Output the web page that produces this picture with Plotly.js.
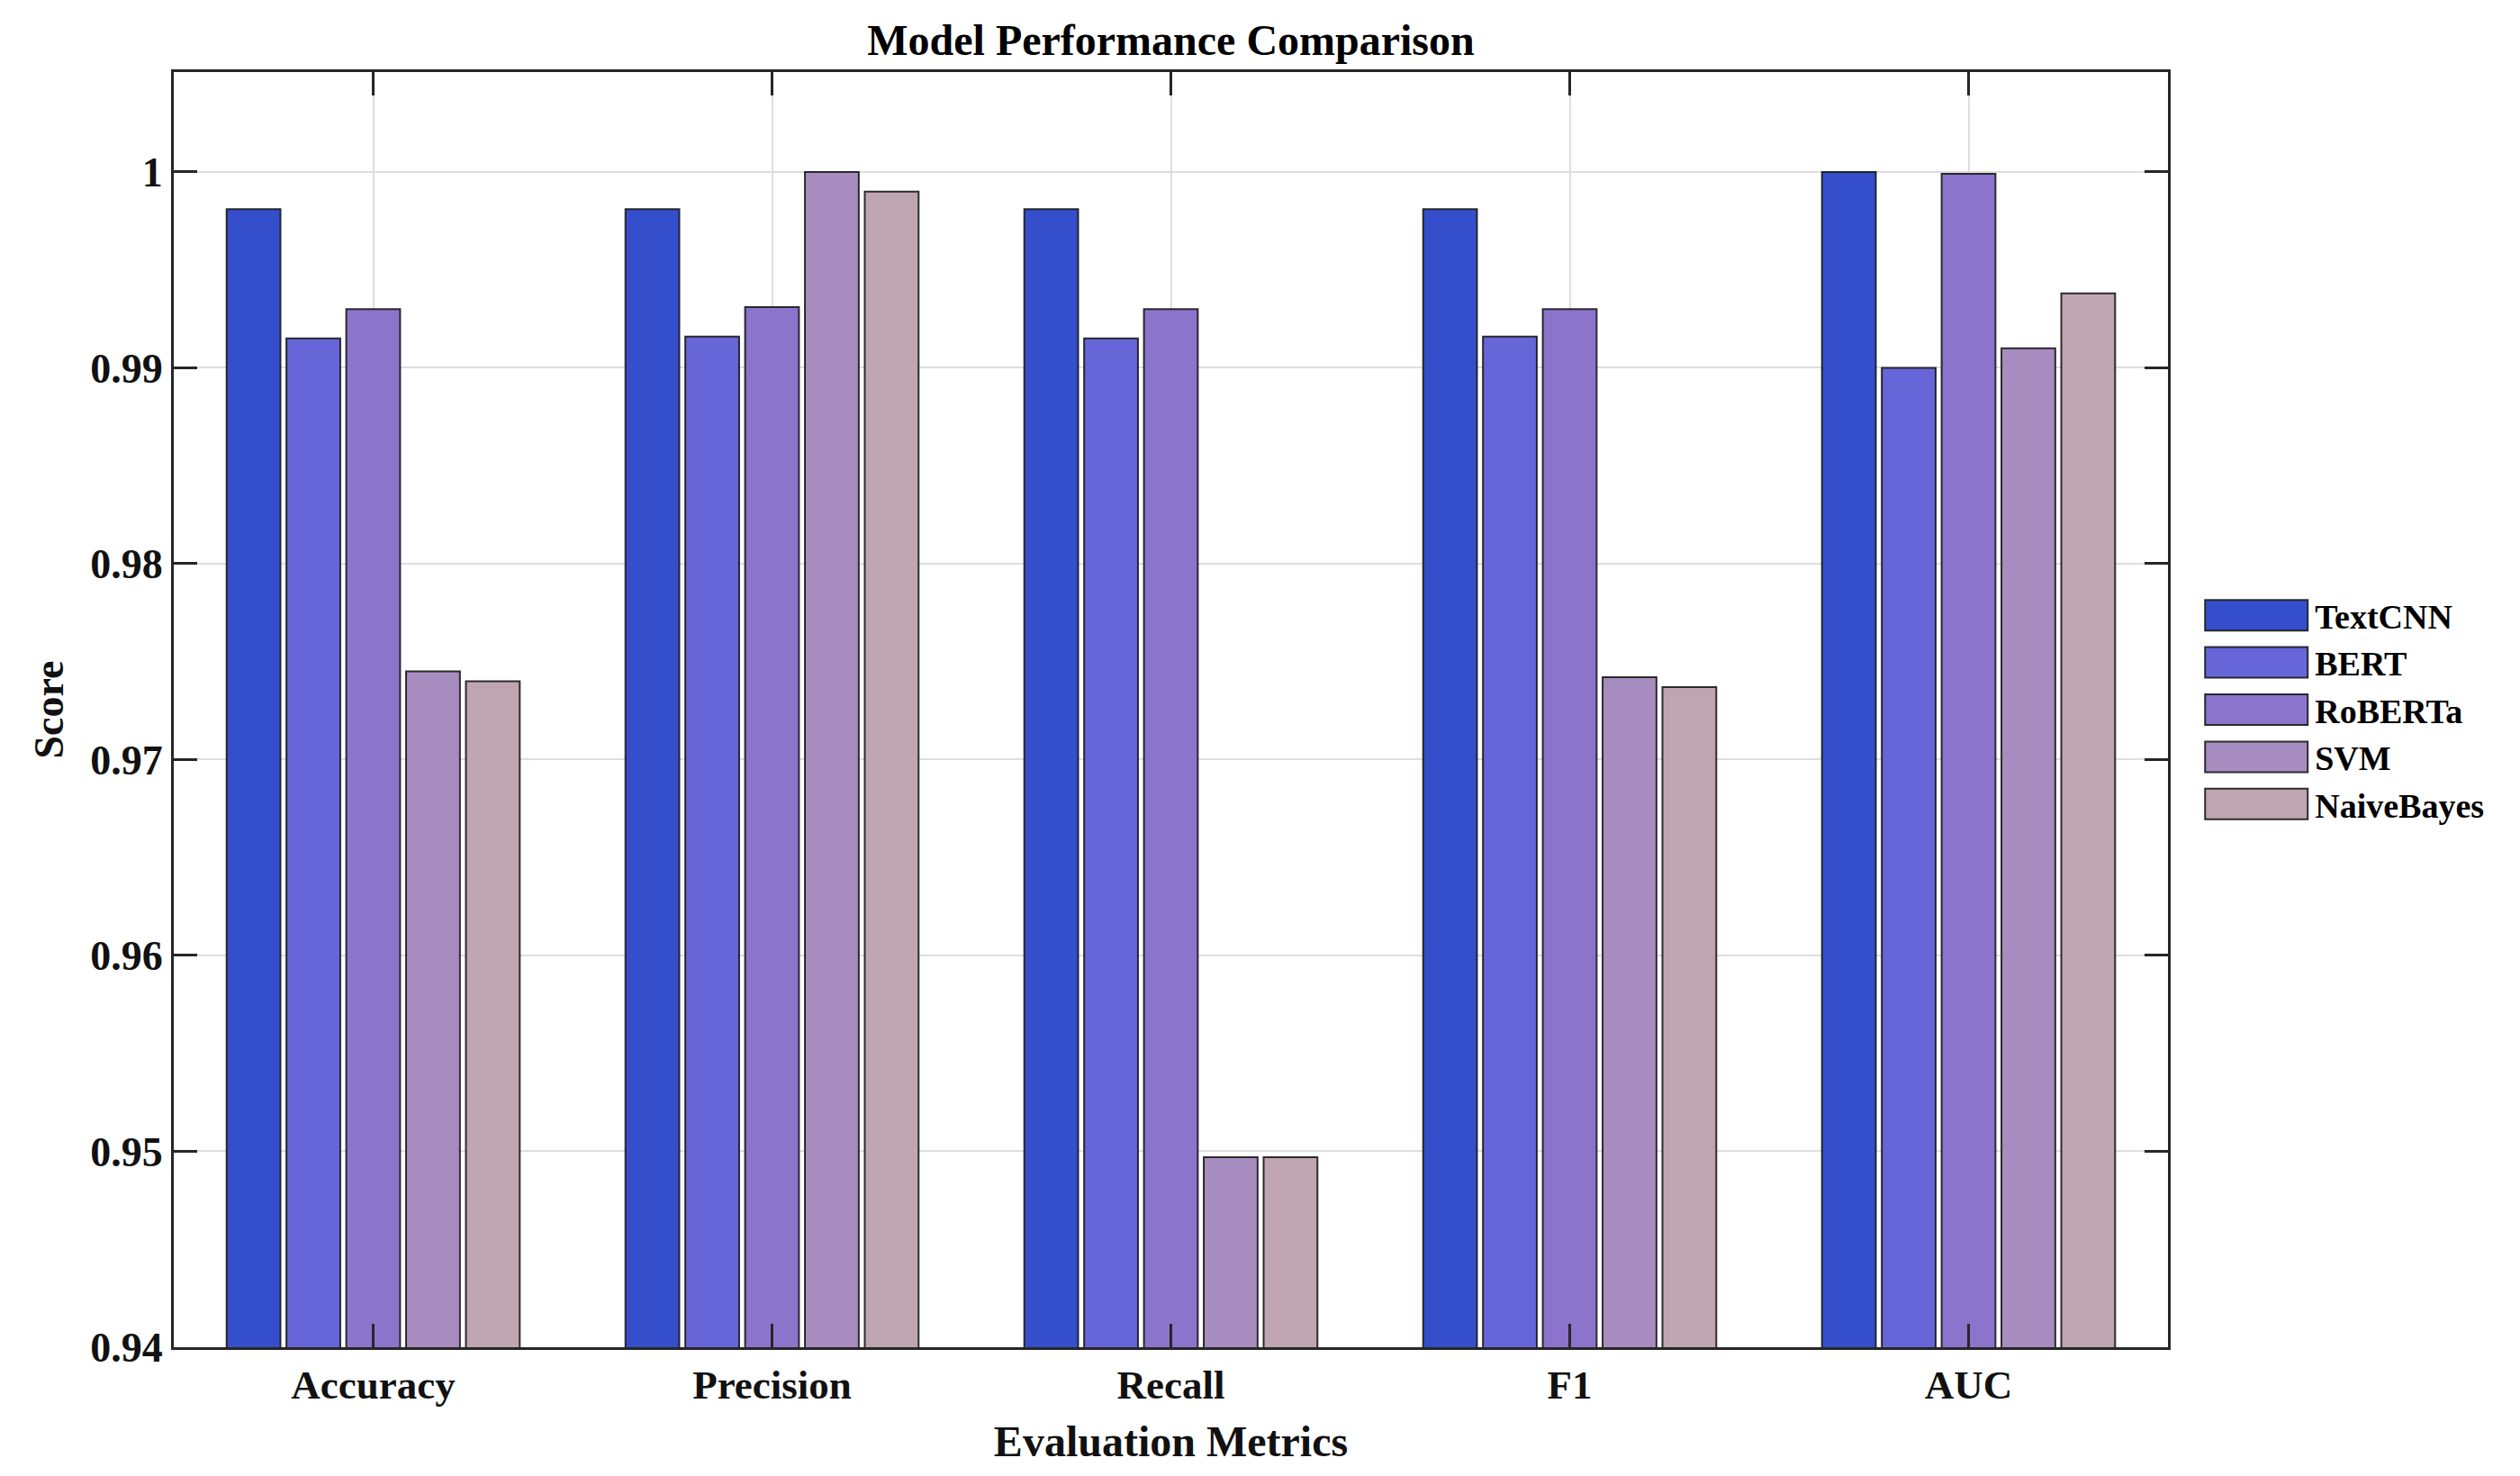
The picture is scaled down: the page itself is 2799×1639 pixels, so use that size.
<!DOCTYPE html>
<html>
<head>
<meta charset="utf-8">
<script src="https://cdn.plot.ly/plotly-3.0.1.min.js"></script>
<style>
html,body{margin:0;padding:0;background:#fff;}
#chart{width:2799px;height:1639px;}
</style>
</head>
<body>
<div id="chart"></div>
<script>
const metrics = ["Accuracy", "Precision", "Recall", "F1", "AUC"];
const models = ["TextCNN", "BERT", "RoBERTa", "SVM", "NaiveBayes"];
const textcnn    = [0.9981, 0.9981, 0.9981, 0.9981, 1.0000];
const bert       = [0.9915, 0.9916, 0.9915, 0.9916, 0.9900];
const roberta    = [0.9930, 0.9931, 0.9930, 0.9930, 0.9999];
const svm        = [0.9745, 1.0000, 0.9497, 0.9742, 0.9910];
const naivebayes = [0.9740, 0.9990, 0.9497, 0.9737, 0.9938];
const colors = ["#354fcc", "#6766d8", "#8b74cc", "#a78dbf", "#bfa5b1"];
const yTicks = [0.94, 0.95, 0.96, 0.97, 0.98, 0.99, 1];

const series = [textcnn, bert, roberta, svm, naivebayes];
const FONT = "Liberation Serif, Times New Roman, serif";

const traces = series.map((vals, i) => ({
  type: "bar",
  name: models[i],
  x: metrics,
  y: vals,
  base: 0,
  marker: {color: colors[i], line: {color: "rgba(25,25,25,0.9)", width: 2}},
  hoverinfo: "x+y+name"
}));

const layout = {
  width: 2799, height: 1639,
  paper_bgcolor: "#fff", plot_bgcolor: "#fff",
  margin: {l: 193, r: 391, t: 80, b: 143, pad: 0},
  barmode: "group",
  bargap: 0.25,
  bargroupgap: 0.1,
  font: {family: FONT, color: "#111", size: 40},
  title: {text: "Model Performance Comparison", x: 0.5, xref: "paper", xanchor: "center", y: 0.973, yanchor: "middle",
          font: {family: FONT, size: 48, weight: "bold", color: "#000"}},
  xaxis: {
    title: {text: "Evaluation Metrics", font: {family: FONT, size: 48, weight: "bold", color: "#111"}, standoff: 22},
    range: [-0.5, 4.5],
    showgrid: true, gridcolor: "#dedede", gridwidth: 2,
    showline: true, linecolor: "#262626", linewidth: 3, mirror: "ticks",
    ticks: "inside", ticklen: 26, tickwidth: 3, tickcolor: "#262626",
    tickfont: {family: FONT, size: 45, weight: "bold", color: "#111"},
    zeroline: false
  },
  yaxis: {
    title: {text: "Score", font: {family: FONT, size: 46, weight: "bold", color: "#111"}, standoff: 16},
    range: [0.94, 1.0051],
    tickvals: yTicks,
    showgrid: true, gridcolor: "#dedede", gridwidth: 2,
    showline: true, linecolor: "#262626", linewidth: 3, mirror: "ticks",
    ticks: "inside", ticklen: 26, tickwidth: 3, tickcolor: "#262626",
    tickfont: {family: FONT, size: 46, weight: "bold", color: "#111"},
    zeroline: false
  },
  legend: {
    x: 1.015, xanchor: "left", y: 0.5, yanchor: "middle",
    font: {family: FONT, size: 38, weight: "bold", color: "#000"},
    itemwidth: 120, tracegroupgap: 0,
    bgcolor: "rgba(0,0,0,0)"
  },
  showlegend: true
};

Plotly.newPlot("chart", traces, layout, {displayModeBar: false, staticPlot: true}).then(() => {
  document.querySelectorAll(".legend .legendpoints path").forEach(p => {
    p.setAttribute("d", "M-57,-17H57V17H-57Z");
    p.style.strokeWidth = "2px";
  });
});
</script>
</body>
</html>
